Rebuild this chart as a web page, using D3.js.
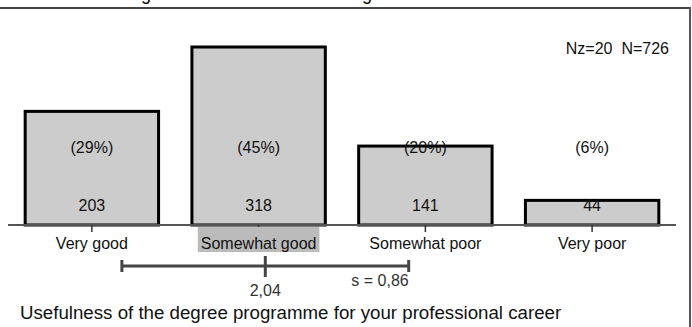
<!DOCTYPE html>
<html><head><meta charset="utf-8">
<script src="https://cdn.jsdelivr.net/npm/d3@7"></script>
<style>html,body{margin:0;padding:0;background:#fff;}svg{display:block;font-family:"Liberation Sans",Arial,sans-serif;}</style>
</head><body>
<script>
const categories = ["Very good", "Somewhat good", "Somewhat poor", "Very poor"];
const counts = [203, 318, 141, 44];
const percents = ["(29%)", "(45%)", "(20%)", "(6%)"];
const meanValue = 2.04;
const sdValue = 0.86;
const meanLabel = "2,04";
const sdLabel = "s = 0,86";
const nLabel = "Nz=20  N=726";
const title = "Usefulness of the degree programme for your professional career";
const headerWords = ["Overall rating", "Teaching"];

const W = 692, H = 327;
const svg = d3.select("body").append("svg").attr("width", W).attr("height", H);

// frame
svg.append("line").attr("x1", 0).attr("x2", 690).attr("y1", 8).attr("y2", 8).attr("stroke", "#444").attr("stroke-width", 2);
svg.append("line").attr("x1", 690).attr("x2", 690).attr("y1", 7).attr("y2", H).attr("stroke", "#555").attr("stroke-width", 2);

// clipped header (only descenders visible, as in the reference)
svg.append("text").attr("x", 151).attr("y", 0).attr("text-anchor", "end").attr("font-size", 18).attr("fill", "#000").text(headerWords[0]);
svg.append("text").attr("x", 372).attr("y", 0).attr("text-anchor", "end").attr("font-size", 18).attr("fill", "#000").text(headerWords[1]);

const x = d3.scaleBand().domain(categories).range([8.5, 675.5]).paddingInner(0.2).paddingOuter(0.1);
const y = d3.scaleLinear().domain([0, 318]).range([225, 47]);
const xm = d3.scaleLinear().domain([1, categories.length])
  .range([x(categories[0]) + x.bandwidth() / 2, x(categories[categories.length - 1]) + x.bandwidth() / 2]);

svg.append("text").attr("x", 669).attr("y", 54).attr("text-anchor", "end").attr("font-size", 16).attr("fill", "#111").style("white-space", "pre").text(nLabel);

// bars
svg.selectAll("rect.bar").data(counts).join("rect").attr("class", "bar")
  .attr("x", (d, i) => x(categories[i]))
  .attr("width", x.bandwidth())
  .attr("y", d => y(d))
  .attr("height", d => y(0) - y(d))
  .attr("fill", "#cccccc").attr("stroke", "#000").attr("stroke-width", 3);

// axis baseline
const axis = d3.axisBottom(x).tickSize(7).tickSizeOuter(0).tickFormat("");
const ag = svg.append("g").attr("transform", `translate(0,${y(0)})`).call(axis);
ag.select(".domain").attr("stroke", "#555").attr("stroke-width", 2).attr("d", "M8,0H676");
ag.selectAll(".tick line").attr("stroke", "#333").attr("stroke-width", 1.5).attr("y1", 0);

// highlight label nearest to mean
const hi = Math.round(meanValue) - 1;

const labels = svg.selectAll("text.cat").data(categories).join("text").attr("class", "cat")
  .attr("x", d => x(d) + x.bandwidth() / 2).attr("y", 249)
  .attr("text-anchor", "middle").attr("font-size", 16).attr("fill", "#111").text(d => d);
labels.each(function (d, i) {
  if (i === hi) {
    const b = this.getBBox();
    svg.insert("rect", "text.cat").attr("x", b.x - 3).attr("y", 227).attr("width", b.width + 6).attr("height", 25).attr("fill", "#bbbbbb");
  }
});

// percentages and counts
svg.selectAll("text.pct").data(percents).join("text").attr("class", "pct")
  .attr("x", (d, i) => x(categories[i]) + x.bandwidth() / 2).attr("y", 153)
  .attr("text-anchor", "middle").attr("font-size", 16).attr("fill", "#111").text(d => d);
svg.selectAll("text.cnt").data(counts).join("text").attr("class", "cnt")
  .attr("x", (d, i) => x(categories[i]) + x.bandwidth() / 2).attr("y", 211)
  .attr("text-anchor", "middle").attr("font-size", 16).attr("fill", "#111").text(d => d);

// mean / sd bar
const my = 266;
const g = svg.append("g").attr("stroke", "#444").attr("stroke-width", 3);
g.append("line").attr("x1", xm(meanValue - sdValue)).attr("x2", xm(meanValue + sdValue)).attr("y1", my).attr("y2", my);
g.append("line").attr("x1", xm(meanValue - sdValue)).attr("x2", xm(meanValue - sdValue)).attr("y1", my - 6).attr("y2", my + 6);
g.append("line").attr("x1", xm(meanValue + sdValue)).attr("x2", xm(meanValue + sdValue)).attr("y1", my - 6).attr("y2", my + 6);
g.append("line").attr("x1", xm(meanValue)).attr("x2", xm(meanValue)).attr("y1", my - 10).attr("y2", my + 11);

svg.append("text").attr("x", xm(meanValue)).attr("y", 296).attr("text-anchor", "middle").attr("font-size", 16).attr("fill", "#333").text(meanLabel);
svg.append("text").attr("x", xm(meanValue + sdValue)).attr("y", 286).attr("text-anchor", "end").attr("font-size", 16).attr("fill", "#333").style("white-space", "pre").text(sdLabel);

svg.append("text").attr("x", 20).attr("y", 319).attr("font-size", 18.7).attr("fill", "#111").text(title);
</script>
</body></html>
